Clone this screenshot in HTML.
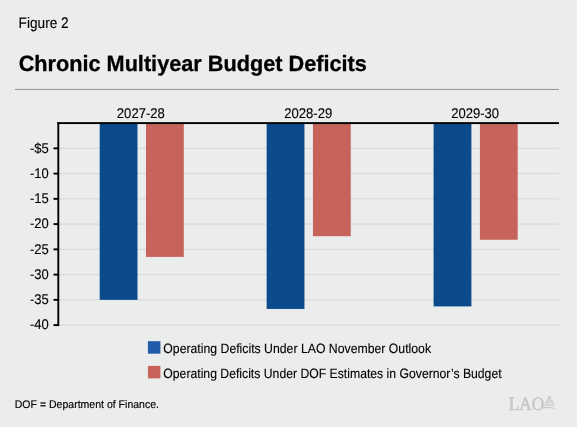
<!DOCTYPE html>
<html><head><meta charset="utf-8">
<style>
html,body{margin:0;padding:0;}
body{width:577px;height:427px;background:#ebedec;overflow:hidden;}
svg{display:block;will-change:transform;}
svg text{text-rendering:geometricPrecision;}
</style></head><body>
<svg width="577" height="427" viewBox="0 0 577 427">
<rect x="0" y="0" width="577" height="427" fill="#ebedec"/>
<text transform="translate(18.61,28.00) scale(0.8941,1)" font-family="Liberation Sans" font-weight="normal" font-size="15.26" fill="#000000" stroke="#000000" stroke-width="0.12">Figure 2</text>
<text transform="translate(18.63,70.60) scale(0.9814,1)" font-family="Liberation Sans" font-weight="bold" font-size="22.10" fill="#000000" stroke="#000000" stroke-width="0.3">Chronic Multiyear Budget Deficits</text>
<rect x="15" y="88.9" width="544" height="1.1" fill="#9a9a9a"/>
<rect x="58.3" y="147.65" width="500.7" height="1.4" fill="#dadbde"/>
<rect x="58.3" y="172.90" width="500.7" height="1.4" fill="#dadbde"/>
<rect x="58.3" y="198.15" width="500.7" height="1.4" fill="#dadbde"/>
<rect x="58.3" y="223.40" width="500.7" height="1.4" fill="#dadbde"/>
<rect x="58.3" y="248.65" width="500.7" height="1.4" fill="#dadbde"/>
<rect x="58.3" y="273.90" width="500.7" height="1.4" fill="#dadbde"/>
<rect x="58.3" y="299.15" width="500.7" height="1.4" fill="#dadbde"/>
<rect x="58.3" y="324.40" width="500.7" height="1.4" fill="#dadbde"/>
<rect x="99.70" y="123.10" width="37.8" height="176.75" fill="#0b4a8b" stroke="none" stroke-width="0"/>
<rect x="146.00" y="123.10" width="37.8" height="133.82" fill="#c6645b" stroke="none" stroke-width="0"/>
<rect x="266.65" y="123.10" width="37.8" height="185.84" fill="#0b4a8b" stroke="none" stroke-width="0"/>
<rect x="312.95" y="123.10" width="37.8" height="113.12" fill="#c6645b" stroke="none" stroke-width="0"/>
<rect x="433.60" y="123.10" width="37.8" height="183.31" fill="#0b4a8b" stroke="none" stroke-width="0"/>
<rect x="479.90" y="123.10" width="37.8" height="116.66" fill="#c6645b" stroke="none" stroke-width="0"/>
<rect x="57.35" y="122.15" width="501.65" height="1.9" fill="#000"/>
<rect x="57.35" y="122.15" width="1.9" height="203.90" fill="#000"/>
<rect x="53.5" y="147.40" width="4.80" height="1.9" fill="#000"/>
<rect x="53.5" y="172.65" width="4.80" height="1.9" fill="#000"/>
<rect x="53.5" y="197.90" width="4.80" height="1.9" fill="#000"/>
<rect x="53.5" y="223.15" width="4.80" height="1.9" fill="#000"/>
<rect x="53.5" y="248.40" width="4.80" height="1.9" fill="#000"/>
<rect x="53.5" y="273.65" width="4.80" height="1.9" fill="#000"/>
<rect x="53.5" y="298.90" width="4.80" height="1.9" fill="#000"/>
<rect x="53.5" y="324.15" width="4.80" height="1.9" fill="#000"/>
<text transform="translate(116.85,117.80) scale(0.9271,1)" font-family="Liberation Sans" font-weight="normal" font-size="14.10" fill="#000000" stroke="#000000" stroke-width="0.12">2027-28</text>
<text transform="translate(284.14,117.80) scale(0.9297,1)" font-family="Liberation Sans" font-weight="normal" font-size="14.10" fill="#000000" stroke="#000000" stroke-width="0.12">2028-29</text>
<text transform="translate(451.15,117.80) scale(0.9271,1)" font-family="Liberation Sans" font-weight="normal" font-size="14.10" fill="#000000" stroke="#000000" stroke-width="0.12">2029-30</text>
<text transform="translate(29.88,152.55) scale(0.9282,1)" font-family="Liberation Sans" font-weight="normal" font-size="14.10" fill="#000000" stroke="#000000" stroke-width="0.12">-$5</text>
<text transform="translate(29.88,177.80) scale(0.9215,1)" font-family="Liberation Sans" font-weight="normal" font-size="14.10" fill="#000000" stroke="#000000" stroke-width="0.12">-10</text>
<text transform="translate(29.88,203.05) scale(0.9282,1)" font-family="Liberation Sans" font-weight="normal" font-size="14.10" fill="#000000" stroke="#000000" stroke-width="0.12">-15</text>
<text transform="translate(29.88,228.30) scale(0.9215,1)" font-family="Liberation Sans" font-weight="normal" font-size="14.10" fill="#000000" stroke="#000000" stroke-width="0.12">-20</text>
<text transform="translate(29.88,253.55) scale(0.9282,1)" font-family="Liberation Sans" font-weight="normal" font-size="14.10" fill="#000000" stroke="#000000" stroke-width="0.12">-25</text>
<text transform="translate(29.88,278.80) scale(0.9215,1)" font-family="Liberation Sans" font-weight="normal" font-size="14.10" fill="#000000" stroke="#000000" stroke-width="0.12">-30</text>
<text transform="translate(29.88,304.05) scale(0.9282,1)" font-family="Liberation Sans" font-weight="normal" font-size="14.10" fill="#000000" stroke="#000000" stroke-width="0.12">-35</text>
<text transform="translate(29.88,329.30) scale(0.9266,1)" font-family="Liberation Sans" font-weight="normal" font-size="14.10" fill="#000000" stroke="#000000" stroke-width="0.12">-40</text>
<rect x="147.9" y="341.20" width="12.5" height="12.5" fill="#1f5dab"/>
<text transform="translate(163.29,352.60) scale(0.9080,1)" font-family="Liberation Sans" font-weight="normal" font-size="13.50" fill="#000000" stroke="#000000" stroke-width="0.12">Operating Deficits Under LAO November Outlook</text>
<rect x="147.9" y="365.90" width="12.5" height="12.5" fill="#c8625a"/>
<text transform="translate(163.29,377.60) scale(0.9048,1)" font-family="Liberation Sans" font-weight="normal" font-size="13.50" fill="#000000" stroke="#000000" stroke-width="0.12">Operating Deficits Under DOF Estimates in Governor’s Budget</text>
<text transform="translate(14.76,407.70) scale(0.9531,1)" font-family="Liberation Sans" font-weight="normal" font-size="11.05" fill="#000000" stroke="#000000" stroke-width="0.15">DOF = Department of Finance.</text>
<text transform="translate(508.68,409.50) scale(0.9166,1)" font-family="Liberation Serif" font-weight="normal" font-size="18.90" fill="#c6c7c8" stroke="#c6c7c8" stroke-width="0.55">LAO</text>
<g fill="none" stroke="#c6c7c8" stroke-width="0.9">
<rect x="548.7" y="396.6" width="1.5" height="1.7" fill="#d8d9d9"/>
<path d="M547.5,399 L551.1,399" />
<path d="M545.7,403.6 Q545.9,399.7 549.3,399.6 Q552.9,399.7 553.3,403.6" fill="#dcdddd"/>
<path d="M545.4,401.8 L553.2,401.8" stroke-width="0.5"/>
<path d="M544.3,404.2 L555,404.2 M544.3,405.6 L555.4,405.6" stroke-width="0.7"/>
</g>
<path fill="#c6c7c8" d="M542.8,407.3 Q550.5,405.2 557.9,409.7 Q550.5,407.2 542.8,408.4 Z"/>
</svg>
</body></html>
